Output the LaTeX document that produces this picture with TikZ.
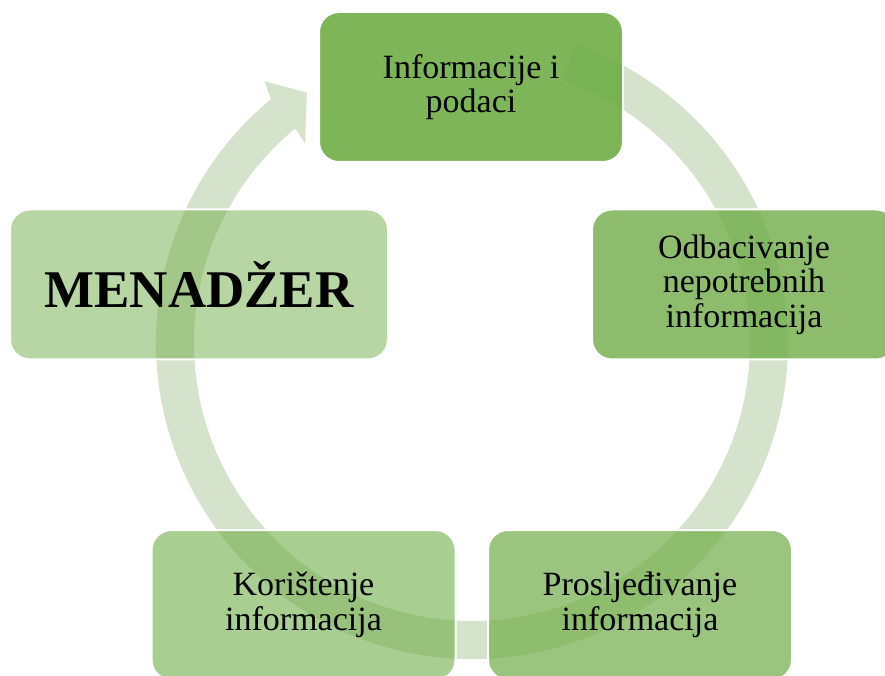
\documentclass[tikz,border=0pt]{standalone}
\usepackage{fontspec}
\setmainfont{Liberation Serif}
\usetikzlibrary{positioning,calc}
\tikzset{>=stealth}
\definecolor{ringgreen}{HTML}{D5E3CD}
\definecolor{stagegreen}{HTML}{70AD47}

\begin{document}
\begin{tikzpicture}[x=1pt, y=1pt,
		stage/.style={draw=white, line width=2pt, fill=stagegreen, text opacity=1,
			rounded corners=20pt, minimum width=304pt, minimum height=150pt,
			inner sep=0pt, align=center, font=\fontsize{34}{34.5}\selectfont}]
		\clip (0,0) rectangle (885,675);
		% kruzna strelica
		\coordinate (c) at (472,332);
		\fill[ringgreen] ($(c)+(71:316)$) arc[start angle=71, end angle=-230.5, radius=316]
			-- ($(c)+(128.4:334)$) -- ($(c)+(123.4:300)$) -- ($(c)+(129.9:260)$)
			-- ($(c)+(129.5:278)$) arc[start angle=-230.5, end angle=71, radius=278] -- cycle;
		% faze
		\node[stage, fill opacity=0.9] (info) at (471,588) {Informacije i\\podaci};
		\node[stage, fill opacity=0.8] (odbac) at (744,390.5) {Odbacivanje\\nepotrebnih\\informacija};
		\node[stage, fill opacity=0.7] (prosl) at (640,70) {Prosljeđivanje\\informacija};
		\node[stage, fill opacity=0.6] (koris) at (303.5,70) {Korištenje\\informacija};
		\node[stage, fill opacity=0.5, minimum width=378pt, font=\fontsize{53}{55}\selectfont\bfseries] (menadzer) at (199,390.5) {MENADŽER};
	\end{tikzpicture}
\end{document}
